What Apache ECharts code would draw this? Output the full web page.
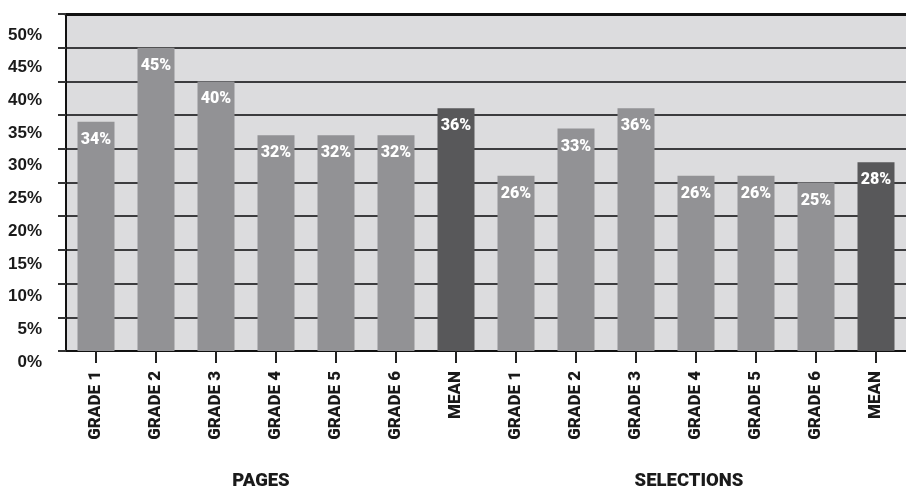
<!DOCTYPE html>
<html>
<head>
<meta charset="utf-8">
<script src="https://cdn.jsdelivr.net/npm/echarts@6/dist/echarts.min.js"></script>
<style>
  html, body { margin: 0; padding: 0; background: #ffffff; }
  #chart { width: 906px; height: 493px; }
</style>
</head>
<body>
<div id="chart"></div>
<script>
// Share of reading (%) per grade, for pages and for selections
const groupNames = ['PAGES', 'SELECTIONS'];
const gradeLabels = ['GRADE 1', 'GRADE 2', 'GRADE 3', 'GRADE 4', 'GRADE 5', 'GRADE 6', 'MEAN'];
const pagesValues = [34, 45, 40, 32, 32, 32, 36];
const selectionsValues = [26, 33, 36, 26, 26, 25, 28];
const yTicks = [0, 5, 10, 15, 20, 25, 30, 35, 40, 45, 50];

const categories = gradeLabels.concat(gradeLabels);
const values = pagesValues.concat(selectionsValues);

const FONT_WIDE = '"Liberation Sans", Arial, sans-serif';
const FONT_TIGHT = 'Roboto, "Liberation Sans", sans-serif';

const chart = echarts.init(document.getElementById('chart'), null, { renderer: 'canvas' });

chart.setOption({
  animation: false,
  backgroundColor: '#ffffff',
  grid: [
    { left: 66, top: 14, width: 851, height: 337, show: true, backgroundColor: '#dcdcde', borderWidth: 0 },
    // label-only grid for the percentage scale
    { left: 66, top: 35, width: 851, height: 327, show: false }
  ],
  xAxis: [
    {
      type: 'category',
      gridIndex: 0,
      data: categories,
      axisLine: { show: true, lineStyle: { color: '#111', width: 2 } },
      axisTick: { show: true, alignWithLabel: true, length: 12, lineStyle: { color: '#222', width: 2 } },
      axisLabel: {
        rotate: 90,
        margin: 20,
        color: '#1a1a1a',
        fontFamily: FONT_TIGHT,
        fontWeight: 900,
        fontSize: 17,
        interval: 0
      },
      splitLine: { show: false }
    },
    {
      type: 'category',
      gridIndex: 0,
      position: 'top',
      data: categories,
      axisLine: { show: true, lineStyle: { color: '#111', width: 3 } },
      axisTick: { show: false },
      axisLabel: { show: false }
    },
    {
      type: 'category',
      gridIndex: 1,
      data: categories,
      show: false
    }
  ],
  yAxis: [
    {
      type: 'value',
      gridIndex: 0,
      min: 0,
      max: 50,
      interval: 5,
      axisLine: { show: true, lineStyle: { color: '#111', width: 2 } },
      axisTick: { show: true, inside: false, length: 8, lineStyle: { color: '#333', width: 2 } },
      axisLabel: { show: false },
      splitLine: { show: true, lineStyle: { color: '#3c3c3e', width: 2 } }
    },
    {
      type: 'value',
      gridIndex: 1,
      min: 0,
      max: 50,
      interval: 5,
      axisLine: { show: false },
      axisTick: { show: false },
      splitLine: { show: false },
      axisLabel: {
        margin: 24,
        color: '#1a1a1a',
        fontFamily: FONT_WIDE,
        fontWeight: 'bold',
        fontSize: 17,
        formatter: function (v) { return yTicks.indexOf(v) >= 0 ? v + '%' : ''; }
      }
    }
  ],
  series: [
    {
      type: 'bar',
      xAxisIndex: 0,
      yAxisIndex: 0,
      data: values,
      barWidth: 37,
      itemStyle: {
        color: function (p) { return p.name === 'MEAN' ? '#58585a' : '#929295'; }
      },
      label: {
        show: true,
        position: 'insideTop',
        distance: 10,
        color: '#ffffff',
        fontFamily: FONT_TIGHT,
        fontWeight: 900,
        fontSize: 16,
        formatter: '{c}%'
      }
    }
  ],
  graphic: [
    {
      type: 'text',
      style: {
        text: groupNames[0],
        x: 0, y: 0,
        align: 'center', verticalAlign: 'middle',
        fill: '#1a1a1a',
        font: '900 18.5px ' + FONT_TIGHT
      },
      position: [261, 481]
    },
    {
      type: 'text',
      style: {
        text: groupNames[1],
        x: 0, y: 0,
        align: 'center', verticalAlign: 'middle',
        fill: '#1a1a1a',
        font: '900 18.5px ' + FONT_TIGHT
      },
      position: [689, 481]
    }
  ]
});
</script>
</body>
</html>
